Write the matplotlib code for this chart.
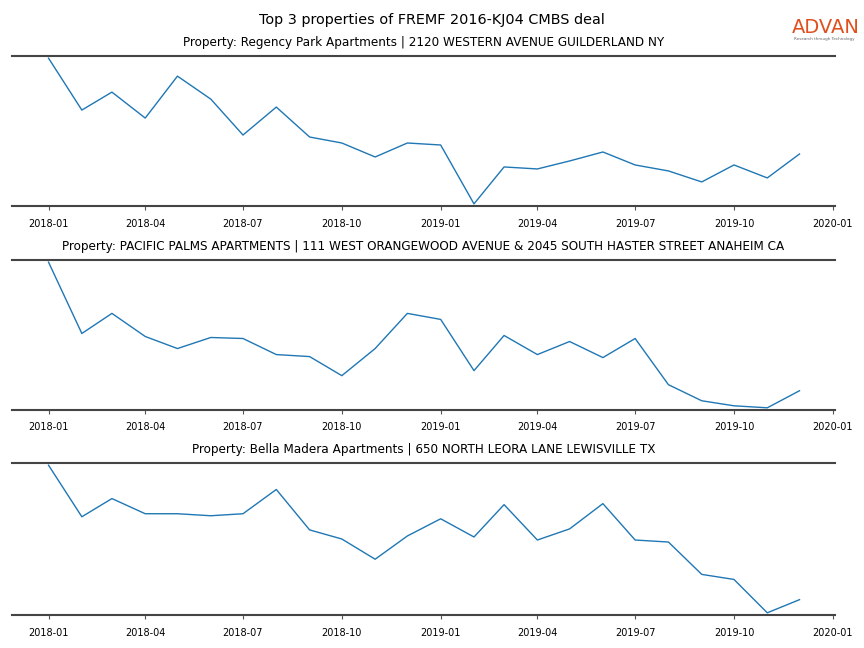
import matplotlib
matplotlib.use("Agg")
import matplotlib.pyplot as plt
import matplotlib.dates as mdates
import numpy as np
import pandas as pd

months = pd.date_range("2018-01-01", "2019-12-01", freq="MS")

titles = [
    "Property: Regency Park Apartments | 2120 WESTERN AVENUE GUILDERLAND NY",
    "Property: PACIFIC PALMS APARTMENTS | 111 WEST ORANGEWOOD AVENUE & 2045 SOUTH HASTER STREET ANAHEIM CA",
    "Property: Bella Madera Apartments | 650 NORTH LEORA LANE LEWISVILLE TX",
]

# monthly visit index (no y axis in the original, relative values)
regency = [152, 100, 118, 92, 134, 111, 75, 103, 73, 67, 53, 67,
           65, 6, 43, 41, 49, 58, 45, 39, 28, 45, 32, 56]
pacific = [147, 76, 96, 73, 61, 72, 71, 55, 53, 34, 61, 96,
           90, 39, 74, 55, 68, 52, 71, 25, 9, 4, 2, 19]
bella = [148, 97, 115, 100, 100, 98, 100, 124, 84, 75, 55, 78,
         95, 77, 109, 74, 85, 110, 74, 72, 40, 35, 2, 15]
series = [regency, pacific, bella]

fig = plt.figure(figsize=(8.64, 6.48), dpi=100)
fig.suptitle("Top 3 properties of FREMF 2016-KJ04 CMBS deal", fontsize=10.4, y=0.98)

boxes = [(0.9136, 0.682), (0.5988, 0.3673), (0.2855, 0.0509)]
for (top, bottom), title, vals in zip(boxes, titles, series):
    ax = fig.add_axes([0.0139, bottom, 0.9525, top - bottom])
    ax.plot(months, vals, color="#1f77b4", lw=1.0)
    ax.margins(x=0.05, y=0.015)
    ax.set_title(title, fontsize=8.65, pad=7)
    ax.xaxis.set_major_locator(mdates.MonthLocator(bymonth=[1, 4, 7, 10]))
    ax.xaxis.set_major_formatter(mdates.DateFormatter("%Y-%m"))
    ax.set_xlim(pd.Timestamp("2017-11-28"), pd.Timestamp("2020-01-03"))
    ax.tick_params(axis="x", labelsize=7, length=3, color="#555555", pad=6)
    ax.set_yticks([])
    for side in ["left", "right"]:
        ax.spines[side].set_visible(False)
    for side in ["top", "bottom"]:
        ax.spines[side].set_color("#444444")
        ax.spines[side].set_linewidth(1.5)

fig.text(0.9555, 0.957, "ADVAN", color="#e0501e", fontsize=14, ha="center", va="center")
fig.text(0.954, 0.940, "Research through Technology", color="#666666", fontsize=3, ha="center", va="center")

fig.savefig("out.png", dpi=100)
